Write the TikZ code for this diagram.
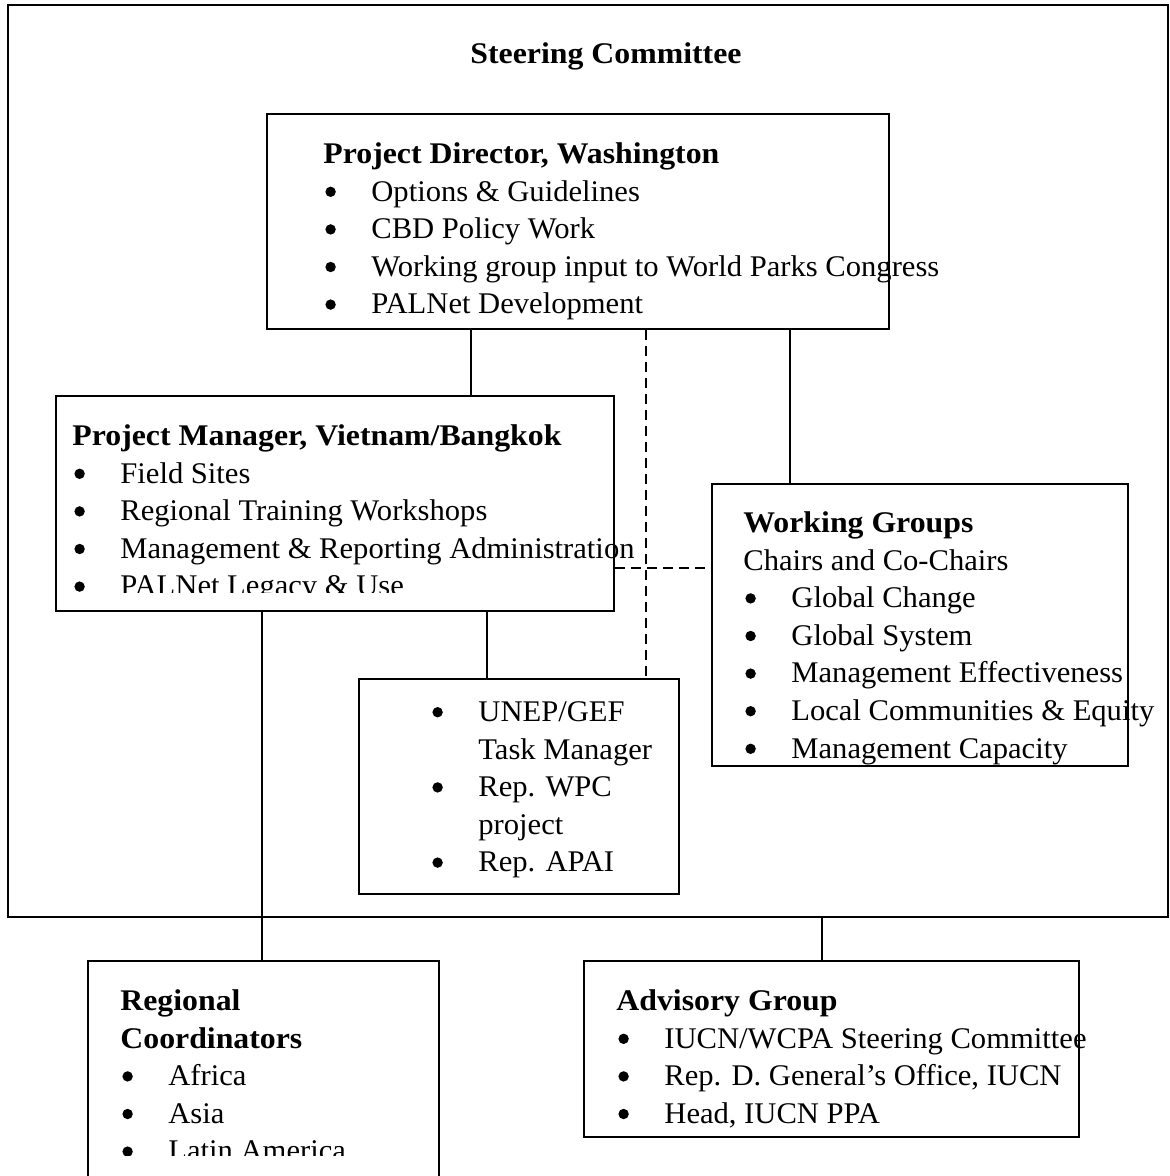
\documentclass[tikz,border=0pt]{standalone}
\usepackage{fontspec}
\setmainfont{Liberation Serif}[FakeStretch=1.02, BoldFeatures={FakeStretch=1.06}]

\newcommand{\tp}{\rule{0pt}{14pt}}
\newcommand{\bdot}{\tikz[baseline=-4.6pt]\fill (0,0) circle (2.6pt);}
\newcommand{\itm}[1]{\makebox[24pt][l]{\hspace{1pt}\bdot}#1}
\newcommand{\hang}[1]{\hspace*{24pt}#1}

\tikzset{
  box/.style={draw, line width=1pt, anchor=north west, inner sep=0pt},
  txt/.style={anchor=north west, inner sep=0pt, align=left,
              font=\fontsize{15}{18.8}\selectfont},
  link/.style={line width=1pt},
  dlink/.style={line width=1pt, dash pattern=on 5pt off 3pt}
}

\begin{document}
\begin{tikzpicture}[x=0.5pt,y=-0.5pt]
  \clip (0,0) rectangle (1170,1176);

  % boxes
  \node[box, minimum width=580pt, minimum height=456pt] (steer) at (7,4) {};
  \node[box, minimum width=311pt, minimum height=107.5pt] (dir) at (266,113) {};
  \node[box, minimum width=279pt, minimum height=107.5pt] (mgr) at (55,395) {};
  \node[box, minimum width=208pt, minimum height=141pt] (wg) at (711,483) {};
  \node[box, minimum width=160pt, minimum height=107.5pt] (unep) at (358,678) {};
  \node[box, minimum width=175.5pt, minimum height=130pt] (reg) at (87,960) {};
  \node[box, minimum width=247.5pt, minimum height=88pt] (adv) at (583,960) {};

  % texts
  \node[txt, anchor=base, font=\fontsize{15}{18.8}\selectfont\bfseries] (steertxt) at (606,64) {Steering Committee};

  \node[txt] (dirtxt) at (323,135) {\tp\textbf{Project Director, Washington}\\
    \itm{Options \& Guidelines}\\
    \itm{CBD Policy Work}\\
    \itm{Working group input to World Parks Congress}\\
    \itm{PALNet Development}};

  \begin{scope}
    \clip (0,0) rectangle (1170,592);
    \node[txt] (mgrtxt) at (72,417) {\tp\textbf{Project Manager, Vietnam/Bangkok}\\
      \itm{Field Sites}\\
      \itm{Regional Training Workshops}\\
      \itm{Management \& Reporting Administration}\\
      \itm{PALNet Legacy \& Use}};
  \end{scope}

  \node[txt] (wgtxt) at (743,504) {\tp\textbf{Working Groups}\\
    Chairs and Co-Chairs\\
    \itm{Global Change}\\
    \itm{Global System}\\
    \itm{Management Effectiveness}\\
    \itm{Local Communities \& Equity}\\
    \itm{Management Capacity}};

  \node[txt] (ueptxt) at (430,693) {\tp\itm{UNEP/GEF}\\
    \hang{Task Manager}\\
    \itm{Rep. WPC}\\
    \hang{project}\\
    \itm{Rep. APAI}};

  \begin{scope}
    \clip (0,0) rectangle (1170,1155);
    \node[txt] (regtxt) at (120,982) {\tp\textbf{Regional}\\
      \textbf{Coordinators}\\
      \itm{Africa}\\
      \itm{Asia}\\
      \itm{Latin America}};
  \end{scope}

  \node[txt] (advtxt) at (616,982) {\tp\textbf{Advisory Group}\\
    \itm{IUCN/WCPA Steering Committee}\\
    \itm{Rep. D. General's Office, IUCN}\\
    \itm{Head, IUCN PPA}};

  % connectors
  \coordinate (xa) at (471,0);
  \coordinate (xb) at (646,0);
  \coordinate (xc) at (790,0);
  \coordinate (xd) at (487,0);
  \coordinate (xe) at (262,0);
  \coordinate (xf) at (822,0);
  \coordinate (ya) at (0,568);

  \draw[link] (dir.south -| xa) -- (mgr.north -| xa);
  \draw[dlink] (dir.south -| xb) -- (unep.north -| xb);
  \draw[link] (dir.south -| xc) -- (wg.north -| xc);
  \draw[dlink] (mgr.east |- ya) -- (wg.west |- ya);
  \draw[link] (mgr.south -| xd) -- (unep.north -| xd);
  \draw[link] (mgr.south -| xe) -- (reg.north -| xe);
  \draw[link] (steer.south -| xf) -- (adv.north -| xf);
\end{tikzpicture}
\end{document}
